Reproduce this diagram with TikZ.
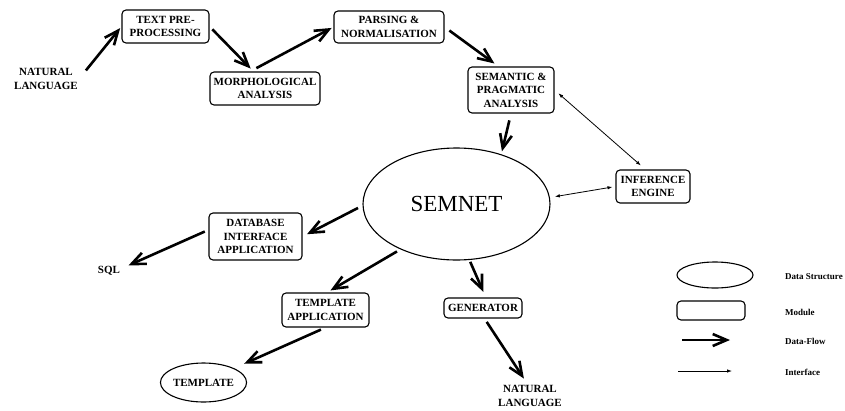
\documentclass[tikz,border=0pt]{standalone}
\usepackage{fontspec}
\setmainfont{Liberation Serif}
\usetikzlibrary{arrows.meta,shapes.geometric}
\begin{document}
\begin{tikzpicture}[x=1pt,y=-1pt,
  module/.style={draw,line width=1.1pt,rounded corners=4pt,inner sep=0pt,align=center,
    font=\bfseries\fontsize{11}{13.5}\selectfont},
  datastruct/.style={draw,ellipse,line width=1.1pt,inner sep=0pt},
  plainlabel/.style={inner sep=1pt,align=center,font=\bfseries\fontsize{11}{13.5}\selectfont},
  flow/.style={line width=2.6pt,-{Straight Barb[length=14pt,width=12pt]}},
  iface/.style={line width=0.8pt,{Latex[length=5pt,width=3.5pt]}-{Latex[length=5pt,width=3.5pt]}},
  legendtext/.style={anchor=west,inner sep=0pt,font=\bfseries\fontsize{9}{10}\selectfont}]

\useasboundingbox (0,0) rectangle (845,410);

% modules
\node[module,minimum width=87pt,minimum height=33pt] (tp) at (165.5,26.5) {TEXT PRE-\\PROCESSING};
\node[module,minimum width=110pt,minimum height=33pt] (morph) at (265,88.5) {MORPHOLOGICAL\\ANALYSIS};
\node[module,minimum width=110pt,minimum height=32pt] (parse) at (389,27) {PARSING \&\\NORMALISATION};
\node[module,minimum width=86pt,minimum height=46pt] (sem) at (511,90) {SEMANTIC \&\\PRAGMATIC\\ANALYSIS};
\node[module,minimum width=74pt,minimum height=33pt] (inf) at (653,186.5) {INFERENCE\\ENGINE};
\node[module,minimum width=93pt,minimum height=47pt] (db) at (255.5,236.5) {DATABASE\\INTERFACE\\APPLICATION};
\node[module,minimum width=87pt,minimum height=34pt] (tapp) at (325.5,310) {TEMPLATE\\APPLICATION};
\node[module,minimum width=78pt,minimum height=20pt] (gen) at (483,308) {GENERATOR};

% data structures
\node[datastruct,minimum width=187pt,minimum height=112pt,font=\fontsize{23}{26}\selectfont] (semnet) at (456.5,204) {SEMNET};
\node[datastruct,minimum width=80pt,minimum height=39pt,font=\bfseries\fontsize{11}{13.5}\selectfont] (tmpl) at (203.5,382.5) {TEMPLATE};

% sources and sinks
\node[plainlabel] (nl1) at (46,79) {NATURAL\\LANGUAGE};
\node[plainlabel] (nl2) at (530,396) {NATURAL\\LANGUAGE};
\node[plainlabel] (sql) at (109,271) {SQL};

% data flow
\draw[flow,shorten <=11pt,shorten >=2pt] (nl1.east) -- (tp.west);
\draw[flow,shorten <=4pt,shorten >=4pt] (tp.east) -- (morph.124);
\draw[flow,shorten <=7pt,shorten >=2pt] (morph.131) -- (parse.west);
\draw[flow,shorten <=6pt,shorten >=5pt] (parse.east) -- (sem.118);
\draw[flow,shorten <=7pt,shorten >=3pt] (sem.south) -- (semnet.48);
\draw[flow,shorten <=5pt,shorten >=5pt] (semnet.181) -- (db.east);
\draw[flow,shorten <=4pt,shorten >=8pt] (db.172) -- (sql.11);
\draw[flow,shorten <=4pt,shorten >=4pt] (semnet.219) -- (tapp.85);
\draw[flow,shorten <=5pt,shorten >=11pt] (tapp.south) -- (tmpl.25);
\draw[flow,shorten <=2pt,shorten >=6pt] (semnet.-77) -- (gen.75);
\draw[flow,shorten <=4pt,shorten >=7pt] (gen.-82) -- (nl2.101);

% interfaces
\draw[iface,shorten <=5pt,shorten >=6pt] (sem.east) -- (inf.114);
\draw[iface,shorten <=5pt,shorten >=3pt] (semnet.4) -- (inf.west);

% legend
\node[datastruct,minimum width=76pt,minimum height=26pt] (lgds) at (715,275) {};
\node[module,minimum width=68pt,minimum height=19pt] (lgmod) at (711,310.5) {};
\coordinate (lgflowa) at (682,340);
\coordinate (lgflowb) at (730,340);
\coordinate (lgifa) at (678,371);
\coordinate (lgifb) at (732,371);
\draw[flow] (lgflowa) -- (lgflowb);
\draw[line width=0.8pt,-{Latex[length=5pt,width=3.5pt]}] (lgifa) -- (lgifb);
\node[legendtext] (lgt1) at (785,277) {Data Structure};
\node[legendtext] (lgt2) at (785,312) {Module};
\node[legendtext] (lgt3) at (785,341) {Data-Flow};
\node[legendtext] (lgt4) at (785,372) {Interface};
\end{tikzpicture}
\end{document}
